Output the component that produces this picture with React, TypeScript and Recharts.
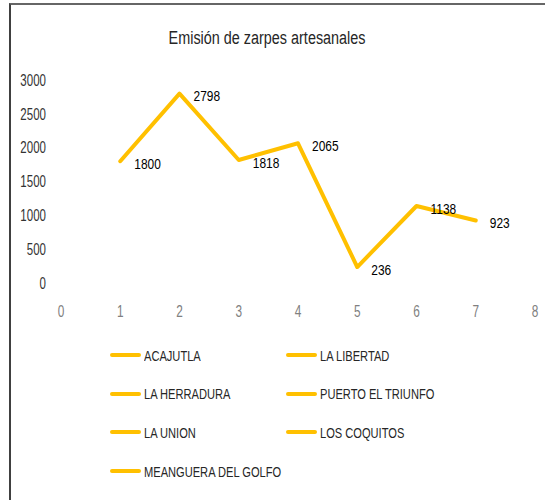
import React from 'react';
import { LineChart, Line, XAxis, YAxis, Legend, LabelList } from 'recharts';

const title = 'Emisión de zarpes artesanales';
const xValues = [1, 2, 3, 4, 5, 6, 7];
const emissions = [1800, 2798, 1818, 2065, 236, 1138, 923];
const ports = [
  'ACAJUTLA',
  'LA LIBERTAD',
  'LA HERRADURA',
  'PUERTO EL TRIUNFO',
  'LA UNION',
  'LOS COQUITOS',
  'MEANGUERA DEL GOLFO',
];
const xTicks = [0, 1, 2, 3, 4, 5, 6, 7, 8];
const yTicks = [0, 500, 1000, 1500, 2000, 2500, 3000];

const data = xValues.map((x, i) => ({ x, value: emissions[i] }));

const FONT = "'Liberation Sans', Arial, sans-serif";
const LINE_COLOR = '#FFC000';

const renderLegend = () => (
  <div style={{ position: 'relative', width: 420, height: 140, fontFamily: FONT, fontSize: 15, color: '#262626' }}>
    {ports.map((name, i) => {
      const col = i % 2;
      const row = Math.floor(i / 2);
      return (
        <div
          key={name}
          style={{
            position: 'absolute',
            left: col * 176,
            top: row * 38.7,
            height: 20,
            display: 'flex',
            alignItems: 'center',
            whiteSpace: 'nowrap',
          }}
        >
          <span style={{ display: 'inline-block', width: 31, height: 4, borderRadius: 2, background: LINE_COLOR, marginRight: 3, flex: 'none' }} />
          <span style={{ display: 'inline-block', transform: 'scaleX(0.74)', transformOrigin: 'left center' }}>{name}</span>
        </div>
      );
    })}
  </div>
);

const renderLabel = (props: any) => {
  const { x, y, value } = props;
  return (
    <g transform={`translate(${Number(x) + 14},${Number(y) + 2})`}>
      <text transform="scale(0.77,1)" dominantBaseline="central" fontSize={15.5} fill="#000" fontFamily={FONT}>
        {value}
      </text>
    </g>
  );
};

const YTick = (props: any) => {
  const { x, y, payload } = props;
  return (
    <g transform={`translate(${x},${y})`}>
      <text transform="scale(0.72,1)" textAnchor="end" dominantBaseline="central" fontSize={16} fill="#333" fontFamily={FONT}>
        {payload.value}
      </text>
    </g>
  );
};

const XTick = (props: any) => {
  const { x, y, payload } = props;
  return (
    <g transform={`translate(${x},${Number(y) + 8})`}>
      <text transform="scale(0.74,1)" textAnchor="middle" dominantBaseline="central" fontSize={16} fill="#808080" fontFamily={FONT}>
        {payload.value}
      </text>
    </g>
  );
};

export default function App() {
  return (
    <div style={{ position: 'absolute', left: 0, top: 0, width: 545, height: 500, background: '#fff', fontFamily: FONT }}>
      <div
        style={{
          position: 'absolute',
          left: 9,
          top: 3,
          width: 536,
          height: 497,
          borderLeft: '2px solid #404040',
          borderTop: '2px solid #666',
          boxSizing: 'border-box',
        }}
      />
      <div
        style={{
          position: 'absolute',
          left: -5,
          width: 545,
          top: 26,
          textAlign: 'center',
          fontSize: 18,
          color: '#262626',
          lineHeight: '24px',
          whiteSpace: 'nowrap',
        }}
      >
        <span style={{ display: 'inline-block', transform: 'scaleX(0.8)' }}>{title}</span>
      </div>
      <LineChart width={545} height={500} data={data} margin={{ top: 80, right: 10, bottom: 187, left: 11 }} style={{ position: 'absolute', left: 0, top: 0 }}>
        <XAxis
          dataKey="x"
          type="number"
          domain={[0, 8]}
          ticks={xTicks}
          axisLine={false}
          tickLine={false}
          tickSize={0}
          tickMargin={20}
          height={30}
          interval={0}
          tick={<XTick />}
        />
        <YAxis
          type="number"
          domain={[0, 3000]}
          ticks={yTicks}
          axisLine={false}
          tickLine={false}
          tickSize={0}
          tickMargin={15}
          width={50}
          interval={0}
          tick={<YTick />}
        />
        <Legend layout="horizontal" verticalAlign="middle" align="center" content={renderLegend} wrapperStyle={{ top: 345, left: 110, width: 420, height: 140 }} />
        <Line
          type="linear"
          dataKey="value"
          stroke={LINE_COLOR}
          strokeWidth={4}
          strokeLinejoin="round"
          strokeLinecap="round"
          dot={false}
          activeDot={false}
          isAnimationActive={false}
        >
          <LabelList dataKey="value" content={renderLabel} />
        </Line>
      </LineChart>
    </div>
  );
}
